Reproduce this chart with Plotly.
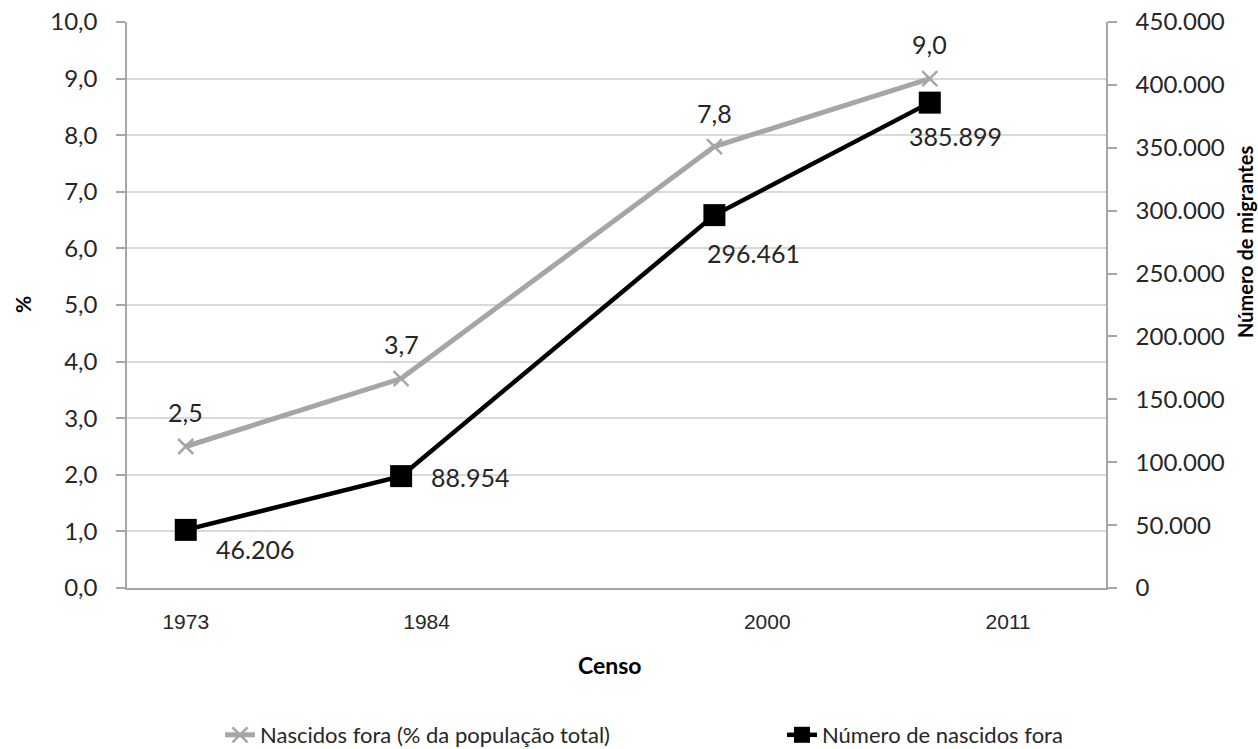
import plotly.graph_objects as go

# ---- data ----
censos = [1973, 1984, 2000, 2011]
pct_nascidos_fora = [2.5, 3.7, 7.8, 9.0]
num_nascidos_fora = [46206, 88954, 296461, 385899]
tick_labels = ["1973", "1984", "2000", "2011"]
tick_positions = [1973, 1985.3, 2002.7, 2015.0]

serie_pct = "Nascidos fora (% da população total)"
serie_num = "Número de nascidos fora"
titulo_x = "Censo"
titulo_y = "%"
titulo_y2 = "Número de migrantes"

# ---- layout constants ----
W, H = 1258, 749
ML, MR, MT, MB = 127, 152, 22, 161
PW, PH = W - ML - MR, H - MT - MB

GRAY = "#A6A6A6"
TXT = "#262626"
LATO = "Lato, Carlito, Calibri, sans-serif"

# label offsets in pixels (xshift, yshift)
pct_label_shift = [(0, 35), (0, 35), (0, 34), (0, 35)]
num_label_shift = [(69, -19), (69, -1), (39, -38), (26, -33)]


def px(xp):
    return (xp - ML) / PW


def py(yp):
    return (H - MB - yp) / PH


fig = go.Figure()
fig.add_trace(go.Scatter(
    x=censos, y=pct_nascidos_fora, name=serie_pct, yaxis="y", legend="legend",
    mode="lines+markers",
    line=dict(color=GRAY, width=5),
    marker=dict(symbol="x-thin", size=15, color=GRAY, line=dict(color=GRAY, width=2.5)),
))
fig.add_trace(go.Scatter(
    x=censos, y=num_nascidos_fora, name=serie_num, yaxis="y2", legend="legend2",
    mode="lines+markers",
    line=dict(color="black", width=4.5),
    marker=dict(symbol="square", size=22, color="black"),
))

annotations = []
for xv, yv, (dx, dy) in zip(censos, pct_nascidos_fora, pct_label_shift):
    annotations.append(dict(
        x=xv, y=yv, xref="x", yref="y", text=f"{yv:.1f}".replace(".", ","),
        showarrow=False, xshift=dx, yshift=dy, xanchor="center", yanchor="middle",
        font=dict(family=LATO, size=25, color=TXT)))
for xv, yv, (dx, dy) in zip(censos, num_nascidos_fora, num_label_shift):
    annotations.append(dict(
        x=xv, y=yv, xref="x", yref="y2", text=f"{yv:,}".replace(",", "."),
        showarrow=False, xshift=dx, yshift=dy, xanchor="center", yanchor="middle",
        font=dict(family=LATO, size=25, color=TXT)))

annotations.append(dict(x=px(610), y=py(665), xref="paper", yref="paper", text=f"<b>{titulo_x}</b>",
                        showarrow=False, xanchor="center", yanchor="middle",
                        font=dict(family=LATO, size=23, color="black")))
annotations.append(dict(x=px(22), y=py(305), xref="paper", yref="paper", text=f"<b>{titulo_y}</b>",
                        showarrow=False, xanchor="center", yanchor="middle", textangle=-90,
                        font=dict(family=LATO, size=21, color="black")))
annotations.append(dict(x=px(1245), y=py(242), xref="paper", yref="paper", text=f"<b>{titulo_y2}</b>",
                        showarrow=False, xanchor="center", yanchor="middle", textangle=-90,
                        font=dict(family=LATO, size=20, color="black")))

legend_common = dict(
    orientation="h", xref="container", yref="container",
    y=(H - 735) / H, xanchor="left", yanchor="middle",
    font=dict(family=LATO, size=22, color=TXT),
    bgcolor="rgba(0,0,0,0)", borderwidth=0,
)

fig.update_layout(
    width=W, height=H, autosize=False,
    margin=dict(l=ML, r=MR, t=MT, b=MB, pad=0, autoexpand=False),
    paper_bgcolor="white", plot_bgcolor="white",
    separators=",.",
    showlegend=True,
    legend=dict(x=220 / W, **legend_common),
    legend2=dict(x=782 / W, **legend_common),
    xaxis=dict(
        range=[1970, 2020], tickmode="array", tickvals=tick_positions, ticktext=tick_labels,
        showgrid=False, zeroline=False, showline=True, linecolor=GRAY, linewidth=1.5,
        ticks="", tickfont=dict(family="Liberation Sans, Arial, sans-serif", size=21, color=TXT),
        ticklabelstandoff=14,
    ),
    yaxis=dict(
        range=[0, 10], dtick=1, tick0=0, tickformat=".1f",
        showgrid=True, gridcolor="#D9D9D9", gridwidth=1.5, zeroline=False,
        showline=True, linecolor=GRAY, linewidth=1.5,
        ticks="outside", ticklen=9, tickcolor=GRAY, tickwidth=1.5,
        tickfont=dict(family=LATO, size=24, color=TXT), ticklabelstandoff=14,
    ),
    yaxis2=dict(
        range=[0, 450000], dtick=50000, tick0=0, tickformat=",d",
        overlaying="y", side="right",
        showgrid=False, zeroline=False,
        showline=True, linecolor=GRAY, linewidth=1.5,
        ticks="outside", ticklen=9, tickcolor=GRAY, tickwidth=1.5,
        tickfont=dict(family=LATO, size=24, color=TXT), ticklabelstandoff=14,
    ),
    annotations=annotations,
)

fig.write_html("out.html", config={"displayModeBar": False},
               post_script="document.body.style.margin='0';")
